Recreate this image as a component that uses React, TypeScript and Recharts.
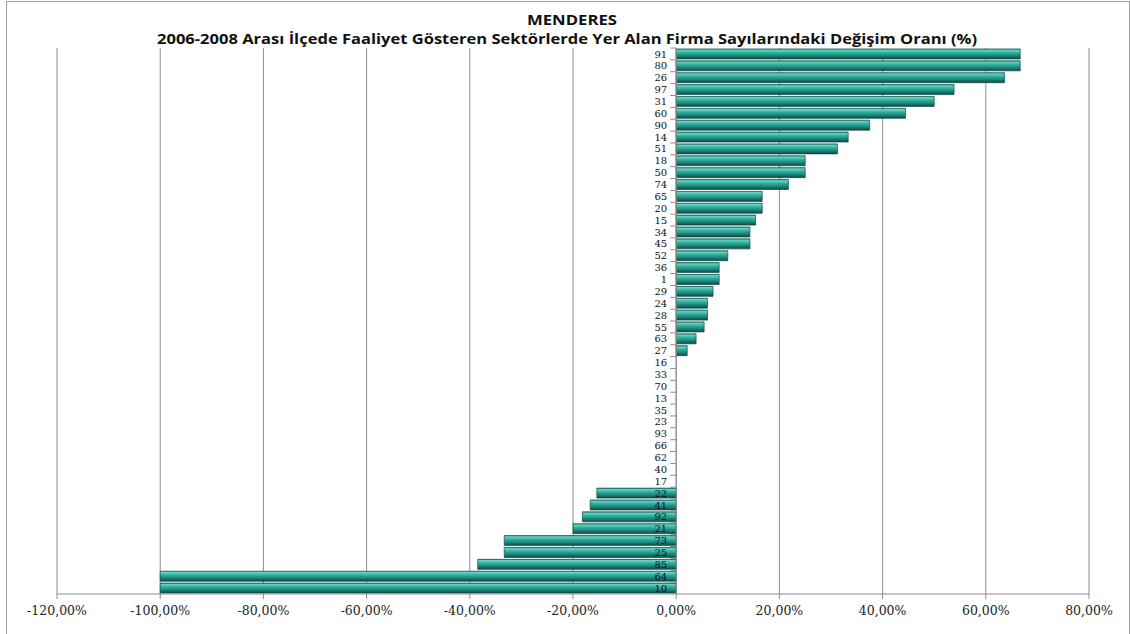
import React from "react";
import {
  BarChart,
  Bar,
  XAxis,
  YAxis,
  CartesianGrid,
  ReferenceLine,
  ReferenceDot,
} from "recharts";

const titleMain = "MENDERES";
const titleSub =
  "2006-2008 Arası İlçede Faaliyet Gösteren Sektörlerde Yer Alan Firma Sayılarındaki Değişim Oranı (%)";

const categories = [
  "91", "80", "26", "97", "31", "60", "90", "14", "51", "18", "50", "74",
  "65", "20", "15", "34", "45", "52", "36", "1", "29", "24", "28", "55",
  "63", "27", "16", "33", "70", "13", "35", "23", "93", "66", "62", "40",
  "17", "22", "41", "92", "21", "73", "25", "85", "64", "10",
];

const changes = [
  66.67, 66.67, 63.64, 53.85, 50.0, 44.44, 37.5, 33.33, 31.25, 25.0, 25.0, 21.74,
  16.67, 16.67, 15.38, 14.29, 14.29, 10.0, 8.33, 8.33, 7.14, 6.06, 6.06, 5.41,
  3.85, 2.13, 0, 0, 0, 0, 0, 0, 0, 0, 0, 0,
  0, -15.38, -16.67, -18.18, -20.0, -33.33, -33.33, -38.46, -100.0, -100.0,
];

const xTicks = [-120, -100, -80, -60, -40, -20, 0, 20, 40, 60, 80];

const data = categories.map((name, i) => ({ name, value: changes[i] }));

const CHART_W = 1130;
const CHART_H = 634;
const MARGIN = { top: 48, right: 41, bottom: 10, left: 57 };
const X_AXIS_H = 30;
const PLOT_H = CHART_H - MARGIN.top - MARGIN.bottom - X_AXIS_H;
const ROW = PLOT_H / categories.length;

const fmt = (v: number) => v.toFixed(2).replace(".", ",") + "%";

const makeCatMark = (label: string) => (props: any) => {
  const { cx, cy } = props;
  const top = cy - ROW / 2;
  return (
    <g>
      <line x1={cx - 6} x2={cx} y1={top} y2={top} stroke="#8c8c8c" strokeWidth={1} />
      <text
        x={cx - 9}
        y={cy}
        dy="0.36em"
        textAnchor="end"
        fontFamily="DejaVu Serif, Liberation Serif, serif"
        fontSize={10}
        fill="#111"
      >
        {label}
      </text>
    </g>
  );
};

export default function App() {
  return (
    <div style={{ position: "absolute", left: 0, top: 0, width: CHART_W, height: CHART_H, background: "#fff", overflow: "hidden" }}>
      <div
        style={{
          position: "absolute",
          left: 6,
          top: 1,
          width: 1124,
          height: 640,
          border: "1px solid #a0a0a0",
          boxSizing: "border-box",
        }}
      />
      <svg width={CHART_W} height={50} style={{ position: "absolute", left: 0, top: 0 }}>
        <text
          x={572}
          y={25}
          textAnchor="middle"
          fontFamily="Open Sans"
          fontWeight="bold"
          fontSize={14.5}
          textLength={90}
          lengthAdjust="spacingAndGlyphs"
          fill="#111"
        >
          {titleMain}
        </text>
        <text
          x={567}
          y={44}
          textAnchor="middle"
          fontFamily="Open Sans"
          fontWeight="bold"
          fontSize={14}
          textLength={820}
          lengthAdjust="spacingAndGlyphs"
          fill="#111"
        >
          {titleSub}
        </text>
      </svg>
      <div style={{ position: "absolute", left: 0, top: 0 }}>
        <BarChart
          width={CHART_W}
          height={CHART_H}
          data={data}
          layout="vertical"
          margin={MARGIN}
          barCategoryGap="8%"
        >
          <defs>
            <linearGradient id="tealGrad" x1="0" y1="0" x2="0" y2="1">
              <stop offset="0%" stopColor="#2f8078" />
              <stop offset="12%" stopColor="#66d6c5" />
              <stop offset="38%" stopColor="#2fb09f" />
              <stop offset="68%" stopColor="#1c8479" />
              <stop offset="100%" stopColor="#0e4843" />
            </linearGradient>
          </defs>
          <CartesianGrid horizontal={false} stroke="#8c8c8c" />
          <XAxis
            type="number"
            domain={[-120, 80]}
            ticks={xTicks}
            allowDataOverflow
            tickFormatter={fmt}
            height={X_AXIS_H}
            tickSize={5}
            tickMargin={7}
            axisLine={{ stroke: "#8c8c8c" }}
            tickLine={{ stroke: "#8c8c8c" }}
            tick={{ fontFamily: "DejaVu Serif, Liberation Serif, serif", fontSize: 12.5, fill: "#222" }}
          />
          <YAxis type="category" dataKey="name" hide width={0} />
          <Bar
            dataKey="value"
            fill="url(#tealGrad)"
            stroke="#0f4f49"
            strokeWidth={0.7}
            isAnimationActive={false}
          />
          <ReferenceLine x={0} stroke="#8c8c8c" />
          {categories.map((c) => (
            <ReferenceDot
              key={c}
              x={0}
              y={c}
              r={0}
              ifOverflow="visible"
              shape={makeCatMark(c)}
            />
          ))}
        </BarChart>
      </div>
    </div>
  );
}
